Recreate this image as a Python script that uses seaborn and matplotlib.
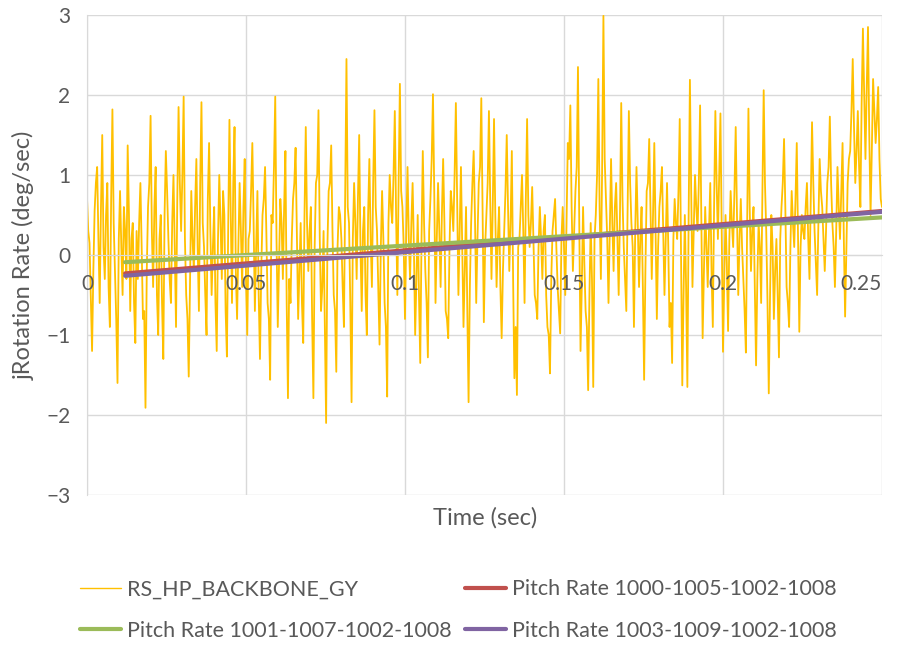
import numpy as np
import pandas as pd
import matplotlib
matplotlib.use("Agg")
import matplotlib.pyplot as plt
import seaborn as sns

# Data

dt = 0.0004

# peaks / troughs of the gyro trace, every 0.0008 s
gyro_peaks = [
    0.72, 0.15, -1.2, 0.55, 1.1, -0.6, 1.5, -0.3, 0.9, -0.9, 1.82, -0.2, -1.6, 0.8, -0.5, 0.3, 1.37, -0.7, 0.4, -1.1,
    -0.3, 0.9, -0.8, -1.91, 0.6, 1.74, -0.4, 1.1, -1.0, 0.5, -1.3, 1.3, 0.2, -0.6, 1.0, -0.9, 1.85, 0.3, 1.98, -0.5,
    -1.52, 0.8, -0.2, 1.2, -0.7, 1.91, 0.1, -1.0, 1.4, -0.5, 0.6, -1.2, 1.0, -0.3, 0.5, -1.27, 1.69, -0.6, 1.6, -0.8,
    0.9, -0.4, 1.2, -1.0, 0.3, 1.4, -0.7, 0.8, -1.3, 0.5, 1.1, -0.6, -1.56, 0.4, 1.98, -0.9, 0.7, -0.3, 1.3, -1.79,
    -0.6, 0.7, 1.34, -0.8, 0.4, -1.1, 1.6, -0.2, 0.6, -1.79, 0.9, 1.81, -0.7, 0.3, -2.1, 0.8, 1.37, -0.5, -1.46, 0.6,
    0.2, -0.9, 2.45, 0.4, -1.84, 0.9, -0.3, 1.5, -0.7, 0.6, -1.0, 1.2, -0.4, 1.81, 0.3, -1.12, 0.8, -0.6, -1.77, 1.0,
    0.4, 1.8, -0.5, 2.14, 0.6, -0.8, 1.1, -0.3, 0.9, -1.0, 0.5, -1.35, 1.3, -0.2, -1.28, 0.7, 2.01, -0.6, 0.9, -0.4,
    1.2, -0.7, -1.04, 0.8, 0.3, 1.9, -0.5, 1.1, -0.9, 0.6, -1.84, 0.4, 1.3, -0.6, 0.9, 1.96, -0.84, 0.5, 1.8, -0.3,
    1.7, -0.4, 0.6, -1.04, 0.3, 1.5, -0.2, 1.3, -1.54, -1.75, 0.2, 1.0, -0.6, 1.7, 0.1, 0.85, -0.5, -0.8, 0.6, -0.3,
    0.5, -0.9, -1.48, 0.3, 0.7, -0.4, -0.98, 0.6, -0.5, 1.4, 1.87, -0.2, 0.8, 2.35, -1.2, 0.6, -0.7, -1.69, 0.4, -1.65,
    0.5, 2.2, -0.3, 2.99, 0.7, -0.6, 1.2, -0.2, 0.9, -0.5, 1.9, 0.1, -0.7, 1.8, 0.4, -0.9, 1.1, -0.4, 0.6, -1.56,
    0.8, 1.45, -0.3, 1.4, -0.8, 0.6, 1.1, -0.5, 0.9, -0.9, -1.35, 0.7, 0.2, 1.7, -1.63, 0.5, -1.65, 2.19, -0.4, 1.0,
    0.3, 1.87, -1.04, 0.6, -0.4, 0.9, -0.9, 1.8, 0.2, 1.77, -1.21, 0.5, -0.95, 0.8, 0.1, 1.6, -0.5, 0.7, -0.3, -1.22,
    1.83, -0.2, 0.6, -1.38, 0.4, -0.6, 2.06, 0.3, -1.73, 0.5, -0.8, 0.2, -1.28, 0.6, 1.45, -0.4, -0.9, 0.8, 0.1, 1.4,
    -0.96, 0.5, 0.2, 0.9, -0.3, 1.66, 0.3, -0.5, 1.2, 0.6, -0.2, 0.9, 1.73, 0.4, -0.4, 1.1, 0.2, 1.4, -0.77, 0.9,
    1.3, 2.45, 0.9, 1.8, 0.6, 2.83, 1.2, 2.85, 0.5, 2.2, 1.4, 2.1, 0.7,
]

# samples in between, the dense core of the trace
gyro_core = [
    0.3, -0.5, -0.2, 0.9, 0.2, 0.6, 0.1, 0.5, -0.4, 0.7, 0.4, -0.8, 0.2, 0.1, 0.6, -0.3, 0.5, 0.2, -0.6, 0.3,
    0.4, 0.1, -0.7, -0.2, 0.9, 0.3, 0.6, -0.5, 0.2, -0.6, 0.5, 0.8, -0.3, 0.4, 0.1, 0.7, 0.9, 1.0, 0.2, -0.8,
    -0.4, 0.2, 0.6, 0.1, 0.9, 0.4, -0.5, 0.7, 0.3, 0.1, -0.6, 0.2, 0.4, 0.8, -0.7, 0.3, 0.5, 0.9, -0.2, 0.1,
    0.3, 0.6, -0.3, 0.2, 0.8, 0.4, 0.1, -0.5, -0.2, 0.7, 0.3, -0.8, 0.5, 1.1, 0.2, -0.1, 0.4, 0.6, -0.6, -0.3,
    0.2, 0.9, 0.3, -0.2, -0.6, 0.5, 0.4, 0.3, -0.8, 0.1, 1.0, 0.2, -0.4, -0.9, 0.1, 0.9, 0.3, -0.7, 0.1, 0.5,
    -0.4, 0.8, 0.6, -0.6, 0.2, 0.4, 0.7, 0.1, 0.3, -0.5, 0.5, 0.2, 0.9, 0.6, -0.4, 0.1, 0.2, -0.9, 0.4, 0.6,
    1.0, 0.5, 0.9, 0.8, 0.1, 0.3, 0.2, 0.4, 0.1, -0.3, -0.5, 0.2, 0.4, -0.6, 0.3, 1.2, 0.8, 0.2, 0.3, 0.5,
    0.4, -0.8, 0.1, 0.6, 1.0, 0.7, 0.3, 0.1, -0.2, -0.7, -0.4, 0.9, 0.5, 0.2, 1.1, 0.6, 0.1, 0.9, 0.7, 0.6,
    0.5, 0.2, -0.4, -0.2, 0.8, 0.6, 0.4, -0.3, -0.9, 0.1, 0.6, 0.3, 0.7, 0.5, 0.4, 0.2, -0.6, 0.1, 0.2, 0.3,
    -0.5, -1.0, -0.3, 0.5, 0.1, -0.7, 0.2, 0.1, 0.4, 1.2, 0.6, 0.3, 1.1, 0.4, -0.4, -0.1, -0.9, -0.5, -0.3, 0.2,
    1.0, 0.6, 1.1, 1.2, 0.2, 0.3, 0.4, 0.6, 0.2, 0.5, 0.7, -0.3, 0.6, 0.9, 0.1, 0.3, 0.4, 0.2, -0.4, -0.2,
    0.9, 0.6, 0.5, 0.3, 0.1, 0.8, 0.3, 0.2, 0.1, -0.6, 0.2, 0.4, 0.8, 0.1, -0.5, -0.4, 0.5, 0.8, 0.3, 0.6,
    0.9, 0.4, -0.2, 0.1, 0.3, -0.2, 0.6, 0.9, 1.0, 0.3, -0.3, -0.1, 0.2, 0.4, 0.8, 0.5, 0.2, 0.1, -0.7, 0.4,
    0.6, 0.3, -0.4, -0.3, 0.1, 0.8, 0.9, -0.6, -0.5, 0.1, -0.2, -0.5, 0.2, 0.9, 0.6, -0.6, 0.1, 0.4, 0.7, 0.2,
    0.1, 0.3, 0.6, 0.2, 0.7, 0.9, -0.1, 0.4, 0.8, 0.2, 0.3, 1.1, 0.9, 0.1, 0.3, 0.6, 0.8, 0.2, 0.1, 1.2,
    1.8, 1.6, 1.3, 1.1, 1.9, 2.0, 2.1, 1.5, 1.3, 1.8, 1.7, 1.2, 0.6,
]

trend_time = [0.012, 0.25]
pitch_1000 = [-0.23, 0.55]
pitch_1001 = [-0.09, 0.47]
pitch_1003 = [-0.26, 0.54]

labels = [
    "RS_HP_BACKBONE_GY",
    "Pitch Rate 1000-1005-1002-1008",
    "Pitch Rate 1001-1007-1002-1008",
    "Pitch Rate 1003-1009-1002-1008",
]

x_ticks = [0, 0.05, 0.1, 0.15, 0.2, 0.25]
x_tick_labels = ["0", "0.05", "0.1", "0.15", "0.2", "0.25"]
y_ticks = [-3, -2, -1, 0, 1, 2, 3]

# Data frames

gyro = [v for pair in zip(gyro_peaks, gyro_core) for v in pair]

df_gyro = pd.DataFrame({
    "Time": np.arange(len(gyro)) * dt,
    "Rate": gyro
})

df_trend = pd.DataFrame({
    "Time": trend_time * 3,
    "Rate": pitch_1000 + pitch_1001 + pitch_1003,
    "Series": [labels[1]] * 2 + [labels[2]] * 2 + [labels[3]] * 2
})

# Plot

sns.set_style("whitegrid")
plt.rcParams["font.family"] = ["Lato", "DejaVu Sans"]

grid_color = "#D9D9D9"
text_color = "#595959"

fig = plt.figure(figsize=(9.06, 6.45), dpi=100)
ax = fig.add_axes([0.096, 0.2326, 0.8775, 0.7441])

sns.lineplot(
    data=df_gyro,
    x="Time",
    y="Rate",
    color="#FFC000",
    linewidth=1.3,
    ax=ax,
    label=labels[0]
)

sns.lineplot(
    data=df_trend,
    x="Time",
    y="Rate",
    hue="Series",
    palette={labels[1]: "#C0504D", labels[2]: "#9BBB59", labels[3]: "#8064A2"},
    linewidth=3,
    ax=ax
)

ax.set_xlim(0, 0.25)
ax.set_ylim(-3, 3)
ax.set_xticks(x_ticks)
ax.set_yticks(y_ticks)
ax.tick_params(axis="x", length=0, labelbottom=False)
ax.tick_params(axis="y", length=0, pad=12, labelsize=15, labelcolor=text_color)

ax.grid(True, color=grid_color, linewidth=1)

for side in ["top", "right"]:
    ax.spines[side].set_visible(False)
ax.spines["left"].set_color(grid_color)
ax.spines["bottom"].set_color(grid_color)
ax.spines["bottom"].set_position(("data", 0))

# x tick labels sit under the zero line, drawn on top of the data
sec = ax.secondary_xaxis(0.5)
sec.set_zorder(10)
sec.xaxis.tick_bottom()
sec.set_xticks(x_ticks)
sec.set_xticklabels(x_tick_labels)
for side in ["top", "bottom"]:
    sec.spines[side].set_visible(False)
sec.tick_params(axis="x", which="both", length=0, pad=14, labelsize=15, labelcolor=text_color,
                labelbottom=True, labeltop=False)
sec.get_xticklabels()[-1].set_horizontalalignment("right")

ax.set_xlabel("")
ax.set_ylabel("jRotation Rate (deg/sec)", fontsize=17, color=text_color, labelpad=8)
fig.text(0.535, 0.197, "Time (sec)", ha="center", va="center", fontsize=17, color=text_color)

# Legend

handles, legend_labels = ax.get_legend_handles_labels()
lookup = dict(zip(legend_labels, handles))
order = [labels[0], labels[2], labels[1], labels[3]]
ax.get_legend().remove()

leg = fig.legend(
    [lookup[k] for k in order],
    order,
    ncol=2,
    frameon=False,
    loc="center",
    bbox_to_anchor=(0.506, 0.054),
    fontsize=15.5,
    labelcolor=text_color,
    handlelength=1.9,
    columnspacing=0.6,
    handletextpad=0.3,
    labelspacing=1.0
)
leg.get_lines()[0].set_linewidth(1.0)

plt.savefig("out.png", dpi=100)
plt.close()
